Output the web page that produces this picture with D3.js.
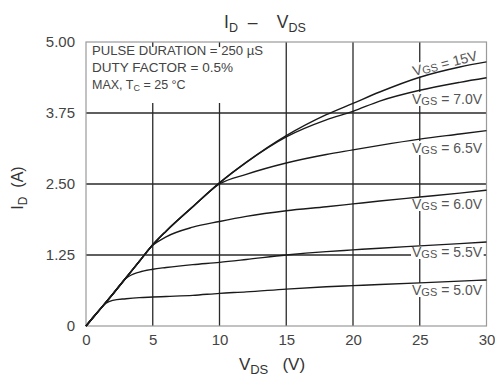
<!DOCTYPE html>
<html>
<head>
<meta charset="utf-8">
<script src="https://cdn.jsdelivr.net/npm/d3@7"></script>
<style>
  html, body { margin: 0; padding: 0; background: #fff; }
  svg { display: block; font-family: "Liberation Sans", Arial, sans-serif; }
</style>
</head>
<body>
<svg id="chart" width="495" height="380"></svg>
<script>
// Drain voltage sample points (V)
const vds = [0, 1, 1.5, 2, 3, 4, 5, 6, 8, 10, 12, 15, 18, 20, 22, 25, 28, 30];

// Drain current (A) for each gate voltage
const id15  = [0, 0.28, 0.42, 0.56, 0.85, 1.14, 1.43, 1.67, 2.10, 2.52, 2.88, 3.35, 3.72, 3.92, 4.12, 4.38, 4.56, 4.65];
const id7p0 = [0, 0.28, 0.42, 0.56, 0.85, 1.14, 1.43, 1.67, 2.10, 2.52, 2.88, 3.33, 3.63, 3.78, 3.96, 4.15, 4.29, 4.37];
const id6p5 = [0, 0.28, 0.42, 0.56, 0.85, 1.14, 1.43, 1.67, 2.10, 2.50, 2.67, 2.87, 3.02, 3.10, 3.18, 3.29, 3.38, 3.44];
const id6p0 = [0, 0.28, 0.42, 0.56, 0.85, 1.14, 1.42, 1.57, 1.74, 1.84, 1.93, 2.03, 2.10, 2.15, 2.20, 2.27, 2.34, 2.39];
const id5p5 = [0, 0.28, 0.42, 0.56, 0.84, 0.95, 1.00, 1.03, 1.08, 1.12, 1.17, 1.25, 1.31, 1.34, 1.37, 1.41, 1.45, 1.48];
const id5p0 = [0, 0.28, 0.40, 0.45, 0.48, 0.50, 0.51, 0.52, 0.54, 0.575, 0.60, 0.65, 0.69, 0.71, 0.73, 0.76, 0.79, 0.81];

const seriesNames = ["15V", "7.0V", "6.5V", "6.0V", "5.5V", "5.0V"];
const seriesValues = [id15, id7p0, id6p5, id6p0, id5p5, id5p0];

// Axis ticks
const xTicks = [0, 5, 10, 15, 20, 25, 30];
const yTicks = [0, 1.25, 2.5, 3.75, 5];
const yTickLabels = ["0", "1.25", "2.50", "3.75", "5.00"];

// Test-condition notes
const notes = ["PULSE DURATION = 250 \u00B5S", "DUTY FACTOR = 0.5%"];

const svg = d3.select("#chart");
const x = d3.scaleLinear().domain([0, 30]).range([86, 486.5]);
const y = d3.scaleLinear().domain([0, 5]).range([326, 42]);

const textColor = "#444";

// Grid lines
const grid = svg.append("g");
grid.selectAll("line.v").data(xTicks.slice(1, -1)).join("line")
  .attr("x1", d => x(d)).attr("x2", d => x(d))
  .attr("y1", y(5)).attr("y2", y(0))
  .attr("stroke", "#2a2a2a").attr("stroke-width", 1.3);
grid.selectAll("line.h").data(yTicks.slice(1, -1)).join("line")
  .attr("x1", x(0)).attr("x2", x(30))
  .attr("y1", d => y(d)).attr("y2", d => y(d))
  .attr("stroke", "#2a2a2a").attr("stroke-width", 1.3);

// Plot frame
svg.append("rect")
  .attr("x", x(0)).attr("y", y(5))
  .attr("width", x(30) - x(0)).attr("height", y(0) - y(5))
  .attr("fill", "none").attr("stroke", "#9a9a9a").attr("stroke-width", 1.2);

// Notes box
svg.append("rect")
  .attr("x", x(0) + 1.5).attr("y", 47)
  .attr("width", 188).attr("height", 56)
  .attr("fill", "#fff");
const noteG = svg.append("g").attr("fill", textColor).attr("font-size", 12.5);
noteG.append("text").attr("x", 92).attr("y", 55)
  .attr("textLength", 171).attr("lengthAdjust", "spacingAndGlyphs").text(notes[0]);
noteG.append("text").attr("x", 92).attr("y", 72)
  .attr("textLength", 141).attr("lengthAdjust", "spacingAndGlyphs").text(notes[1]);
const maxLine = noteG.append("text").attr("x", 92).attr("y", 89);
maxLine.append("tspan").text("MAX, T");
maxLine.append("tspan").attr("font-size", 9).attr("dy", 2).text("C");
maxLine.append("tspan").attr("dy", -2).text(" = 25 \u00B0C");

// Curve labels (white backing hides the grid behind them)
const labelPos = [
  { name: "15V",  x: 414, y: 76, rot: -14 },
  { name: "7.0V", x: 412, y: 104, rot: 0 },
  { name: "6.5V", x: 412, y: 153, rot: 0 },
  { name: "6.0V", x: 412, y: 209, rot: 0 },
  { name: "5.5V", x: 412, y: 257, rot: 0 },
  { name: "5.0V", x: 412, y: 295, rot: 0 }
];
const labelG = svg.append("g");
labelPos.forEach(p => {
  const g = labelG.append("g").attr("transform", `translate(${p.x},${p.y}) rotate(${p.rot})`);
  const bg = g.append("rect").attr("fill", "#fff");
  const t = g.append("text").attr("fill", "#555").attr("font-size", 14);
  t.append("tspan").text("V");
  t.append("tspan").attr("font-size", 11).attr("dy", 0.5).text("GS");
  t.append("tspan").attr("dy", -0.5).text(" = " + p.name);
  const b = t.node().getBBox();
  bg.attr("x", b.x - 1).attr("y", b.y + 1).attr("width", b.width + 2).attr("height", b.height - 2);
});

// Curves
const line = d3.line()
  .x((d, i) => x(vds[i]))
  .y(d => y(d))
  .curve(d3.curveMonotoneX);
svg.append("g").selectAll("path").data(seriesValues).join("path")
  .attr("d", d => line(d))
  .attr("fill", "none")
  .attr("stroke", "#1a1a1a")
  .attr("stroke-width", 1.4)
  .attr("stroke-linejoin", "round");

// Axis tick labels
const xAxis = svg.append("g")
  .attr("transform", `translate(0,${y(0)})`)
  .call(d3.axisBottom(x).tickValues(xTicks).tickSize(0).tickPadding(8).tickFormat(d3.format("d")));
xAxis.select(".domain").remove();
xAxis.selectAll("text").attr("font-size", 15).attr("fill", textColor)
  .attr("font-family", "Liberation Sans, Arial, sans-serif");

const yAxis = svg.append("g")
  .attr("transform", `translate(${x(0)},0)`)
  .call(d3.axisLeft(y).tickValues(yTicks).tickSize(0).tickPadding(11)
    .tickFormat((d, i) => yTickLabels[i]));
yAxis.select(".domain").remove();
yAxis.selectAll("text").attr("font-size", 15).attr("fill", textColor)
  .attr("font-family", "Liberation Sans, Arial, sans-serif");

// Title
const title = svg.append("text").attr("x", 265).attr("y", 28)
  .attr("text-anchor", "middle").attr("font-size", 17.5).attr("fill", "#333")
  .attr("xml:space", "preserve");
title.append("tspan").text("I");
title.append("tspan").attr("font-size", 12.5).attr("dy", 4).text("D");
title.append("tspan").attr("dy", -4).text("  \u2013    V");
title.append("tspan").attr("font-size", 12.5).attr("dy", 4).text("DS");

// X axis title
const xTitle = svg.append("text").attr("x", 272).attr("y", 370)
  .attr("text-anchor", "middle").attr("font-size", 17).attr("fill", "#333")
  .attr("xml:space", "preserve");
xTitle.append("tspan").text("V");
xTitle.append("tspan").attr("font-size", 13).attr("dy", 4).text("DS");
xTitle.append("tspan").attr("dy", -4).text("   (V)");

// Y axis title
const yTitle = svg.append("text")
  .attr("transform", "translate(23,188) rotate(-90)")
  .attr("text-anchor", "middle").attr("font-size", 16).attr("fill", "#333")
  .attr("xml:space", "preserve");
yTitle.append("tspan").text("I");
yTitle.append("tspan").attr("font-size", 12).attr("dy", 4).text("D");
yTitle.append("tspan").attr("dy", -4).text("  (A)");
</script>
</body>
</html>
